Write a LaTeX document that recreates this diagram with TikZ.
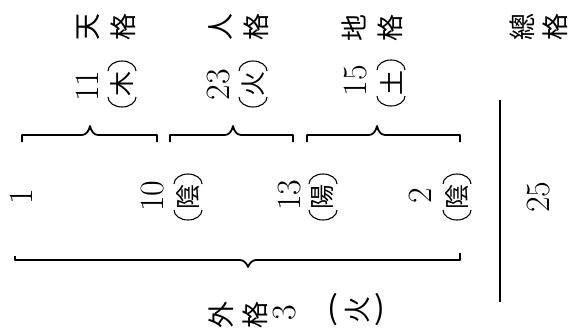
\documentclass[tikz,border=0pt]{standalone}
\usepackage{fontspec}
\newfontfamily\jp{Noto Sans CJK JP}
\begin{document}
\begin{tikzpicture}[x=1pt,y=-1pt,
  num/.style={rotate=90,inner sep=0pt,font=\fontsize{34}{34}\selectfont},
  kj/.style={rotate=90,inner sep=0pt,font=\jp\fontsize{27}{27}\selectfont},
  pk/.style={rotate=90,inner sep=0pt,font=\jp\fontsize{25}{25}\selectfont},
  parc/.style={line width=1.1pt},
  brace/.style={line width=1.8pt,line join=round},
  paren/.style={inner sep=0pt,font=\jp\fontsize{32}{32}\selectfont}]
\useasboundingbox (0,0) rectangle (573,329);
\newcommand\pkj[4]{%
  \node[pk] (#1) at (#2,#3) {#4};
  \draw[parc] (#2-14,#3-13) arc[start angle=180,end angle=360,x radius=14,y radius=10];
  \draw[parc] (#2-14,#3+13) arc[start angle=180,end angle=0,x radius=14,y radius=10];}
% top labels
\node[kj] (ten) at (88,27) {天};
\node[kj] (tenk) at (123,27) {格};
\node[kj] (jin) at (221,27) {人};
\node[kj] (jink) at (256,27) {格};
\node[kj] (chi) at (354,28) {地};
\node[kj] (chik) at (390,28) {格};
\node[kj] (so) at (522,27) {總};
\node[kj] (sok) at (555,27) {格};
% numbers with elements
\node[num] (n11) at (87,86) {11};
\pkj{moku}{122}{84}{木}
\node[num] (n23) at (219,85) {23};
\pkj{ka}{253}{84}{火}
\node[num] (n15) at (356,81) {15};
\pkj{do}{391}{83}{土}
% upper braces
\draw[brace] (22,142) -- (22,135) -- (82,135) .. controls (86,135) and (89,131) .. (90,126)
  .. controls (91,131) and (94,135) .. (98,135) -- (157,135) -- (157,142);
\draw[brace] (170,142) -- (170,135) -- (225,135) .. controls (229,135) and (232,131) .. (233,126)
  .. controls (234,131) and (237,135) .. (241,135) -- (293,135) -- (293,142);
\draw[brace] (307,142) -- (307,135) -- (369,135) .. controls (373,135) and (376,131) .. (377,126)
  .. controls (378,131) and (381,135) .. (385,135) -- (460,135) -- (460,142);
% vertical line
\coordinate (vt) at (500,100);
\coordinate (vb) at (500,302);
\draw[line width=1.4pt] (vt) -- (vb);
% stroke counts
\node[num] (n1) at (21,197) {1};
\node[num] (n10) at (153,196) {10};
\pkj{in1}{188}{197}{陰}
\node[num] (n13) at (290,195) {13};
\pkj{yo}{323}{197}{陽}
\node[num] (n2) at (420,196) {2};
\pkj{in2}{457}{197}{陰}
\node[num] (n25) at (539,197) {25};
% lower brace
\draw[brace] (15,256) -- (15,260) -- (240,260) .. controls (244,260) and (247,264) .. (248,267)
  .. controls (249,264) and (252,260) .. (256,260) -- (460,260) -- (460,253);
% bottom label
\node[kj] (gai) at (221,315) {外};
\node[kj] (gaik) at (255,315) {格};
\node[num] (n3) at (285,313) {3};
\node[paren] (lp) at (333,310) {(};
\node[kj] (hi) at (357,310) {火};
\node[paren] (rp) at (380,310) {)};
\end{tikzpicture}
\end{document}
